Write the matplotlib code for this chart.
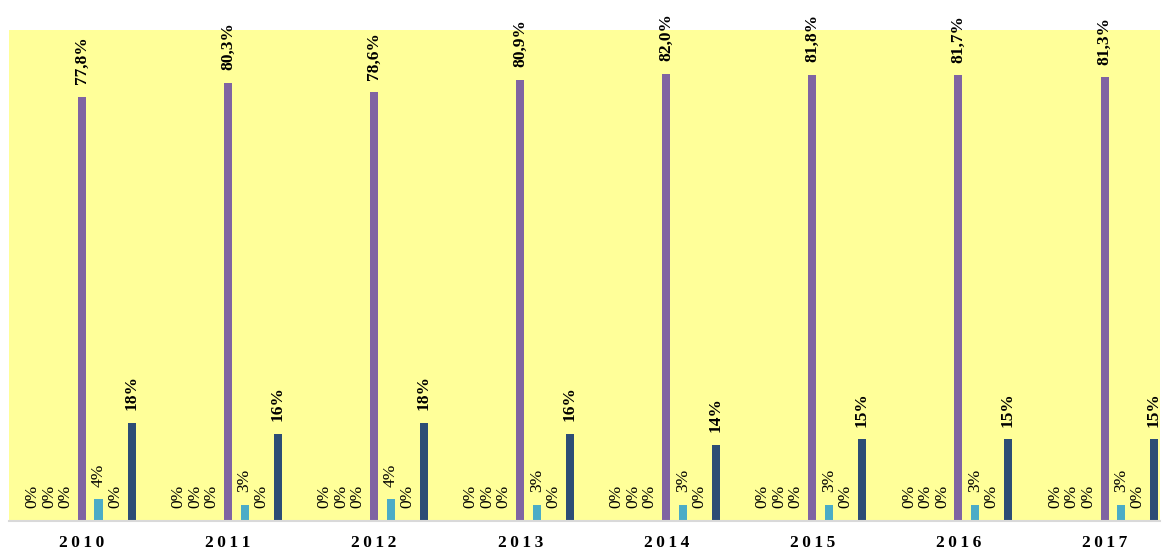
import numpy as np
import matplotlib.pyplot as plt

years = ["2010", "2011", "2012", "2013", "2014", "2015", "2016", "2017"]
# seven series per year; most of them are zero in every year
s1 = [0, 0, 0, 0, 0, 0, 0, 0]
s2 = [0, 0, 0, 0, 0, 0, 0, 0]
s3 = [0, 0, 0, 0, 0, 0, 0, 0]
s4 = [77.8, 80.3, 78.6, 80.9, 82.0, 81.8, 81.7, 81.3]
s5 = [4, 3, 4, 3, 3, 3, 3, 3]
s6 = [0, 0, 0, 0, 0, 0, 0, 0]
s7 = [18, 16, 18, 16, 14, 15, 15, 15]

series = [s1, s2, s3, s4, s5, s6, s7]
colors = ["#4F81BD", "#C0504D", "#9BBB59", "#8064A2", "#4BACC6", "#F79646", "#2C4D75"]
bold = [False, False, False, True, False, False, True]
decimals = [False, False, False, True, False, False, False]

plt.rcParams['font.family'] = ['Liberation Serif', 'DejaVu Serif']

fig = plt.figure(figsize=(11.64, 5.52), dpi=100)
ax = fig.add_axes([0.0077, 0.0562, 0.9889, 0.8895])
ax.set_facecolor("#FFFF99")

x = np.arange(len(years))
slot = 0.113
width = 0.055

for i, vals in enumerate(series):
    pos = x + (i - 3) * slot
    ax.bar(pos, vals, width=width, color=colors[i], zorder=2)
    for px, v in zip(pos, vals):
        if decimals[i]:
            txt = f"{v:.1f}".replace(".", ",") + "%"
        else:
            txt = f"{v:.0f}%"
        ax.annotate(txt, (px, v), xytext=(0, 9), textcoords="offset points",
                    rotation=90, ha="center", va="bottom", fontsize=12.5,
                    fontweight="bold" if bold[i] else "normal",
                    annotation_clip=False, zorder=3)

ax.set_xlim(-0.5, 7.38)
ax.set_ylim(0, 90)
ax.set_yticks([])
ax.set_xticks(x)
# spaced-out year labels
ax.set_xticklabels(["\u2009".join(y) for y in years], fontsize=12.5, fontweight="bold")
ax.tick_params(axis="x", length=0, pad=10)
for side in ["top", "right", "left"]:
    ax.spines[side].set_visible(False)
ax.spines["bottom"].set_color("#D9D9D9")
ax.spines["bottom"].set_linewidth(1.5)

fig.savefig("out.png", dpi=100)
